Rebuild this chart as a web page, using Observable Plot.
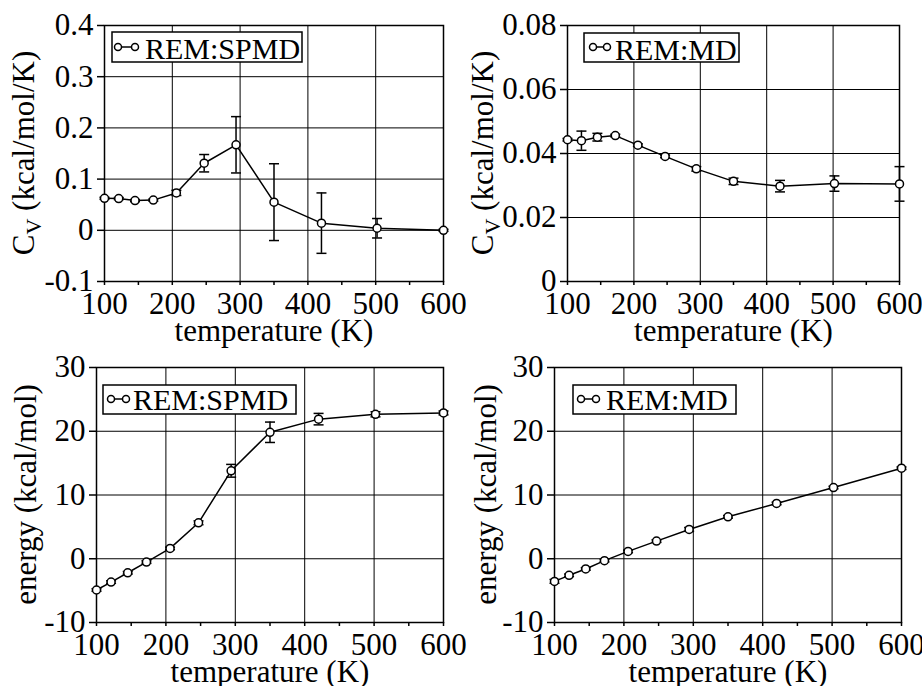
<!DOCTYPE html>
<html><head><meta charset="utf-8">
<script src="https://cdn.jsdelivr.net/npm/d3@7"></script>
<script src="https://cdn.jsdelivr.net/npm/@observablehq/plot@0.6"></script>
<style>
body{margin:0;background:#fff;}
#grid{display:grid;grid-template-columns:461px 461px;grid-template-rows:343px 343px;width:922px;height:686px;overflow:hidden;position:relative}
#grid svg{overflow:visible;display:block;font-family:"Liberation Serif",serif !important;}
#grid svg text, #grid svg tspan{font-family:"Liberation Serif",serif !important;}
</style></head><body><div id="grid"></div>
<script>
// ---- data ----
const temps = [100, 121, 145, 172, 206, 247, 294, 350, 420, 502, 600];
const cvSpmd    = [0.0625, 0.062, 0.058, 0.059, 0.073, 0.131, 0.167, 0.055, 0.014, 0.004, 0.0];
const cvSpmdErr = [0.002, 0.002, 0.002, 0.002, 0.005, 0.017, 0.055, 0.075, 0.059, 0.019, 0.002];
const cvMd      = [0.0443, 0.0440, 0.0451, 0.0456, 0.0426, 0.0391, 0.0352, 0.0313, 0.0298, 0.0306, 0.0305];
const cvMdErr   = [0.0004, 0.003, 0.0012, 0.0004, 0.0004, 0.0004, 0.0007, 0.001, 0.0018, 0.0024, 0.0054];
const eSpmd     = [-4.9, -3.66, -2.2, -0.52, 1.62, 5.64, 13.8, 19.84, 21.9, 22.66, 22.87];
const eSpmdErr  = [0.2, 0.2, 0.2, 0.2, 0.2, 0.3, 1.0, 1.6, 0.9, 0.4, 0.3];
const eMd       = [-3.55, -2.6, -1.6, -0.3, 1.15, 2.77, 4.6, 6.58, 8.67, 11.17, 14.2];
const eMdErr    = [0.3, 0.2, 0.2, 0.2, 0.2, 0.2, 0.3, 0.2, 0.2, 0.2, 0.2];
const xTicks = [100, 200, 300, 400, 500, 600];
const xMinor = [150, 250, 350, 450, 550];
const cvSpmdTicks = [-0.1, 0, 0.1, 0.2, 0.3, 0.4];
const cvMdTicks = [0, 0.02, 0.04, 0.06, 0.08];
const energyTicks = [-10, 0, 10, 20, 30];
const xLabel = "temperature (K)";
const legendSpmd = "REM:SPMD";
const legendMd = "REM:MD";

const FONT = "Liberation Serif";
const W = 461, H = 343;
const FS = 31;

const capSymbol = {
  draw(context, size) {
    const r = Math.sqrt(size / Math.PI);
    context.moveTo(-r, 0);
    context.lineTo(r, 0);
  }
};

function panel(cfg) {
  const rows = temps.map((t, i) => ({t, v: cfg.values[i], lo: cfg.values[i] - cfg.errors[i], hi: cfg.values[i] + cfg.errors[i]}));
  const [mL, mR, mT, mB] = cfg.m;
  const yLabelMark = () => {
    const g = d3.create("svg:g").attr("font-family", FONT).attr("font-size", FS).attr("fill", "black");
    const cx = mL + cfg.yLabelDx, cy = (mT + H - mB) / 2;
    const t = g.append("text").attr("transform", `translate(${cx},${cy}) rotate(-90)`)
      .attr("text-anchor", "middle").attr("dy", "0.32em");
    cfg.yLabel.forEach(part => {
      const s = t.append("tspan").text(part.text);
      if (part.sub) s.attr("font-size", 22).attr("dy", "0.3em");
      if (part.after) s.attr("dy", "-0.21em");
    });
    return g.node();
  };
  const L = cfg.legend;
  const legendMark = () => {
    const g = d3.create("svg:g");
    g.append("rect").attr("x", L.box[0]).attr("y", L.box[1]).attr("width", L.box[2]).attr("height", L.box[3])
      .attr("fill", "white").attr("stroke", "black").attr("stroke-width", 1.5);
    g.append("line").attr("x1", L.c1).attr("x2", L.c2).attr("y1", L.cy).attr("y2", L.cy).attr("stroke", "black").attr("stroke-width", 1.5);
    [L.c1, L.c2].forEach(cx => g.append("circle").attr("cx", cx).attr("cy", L.cy).attr("r", 3.5)
      .attr("fill", "white").attr("stroke", "black").attr("stroke-width", 1.5));
    g.append("text").attr("x", L.tx).attr("y", L.ty).attr("font-family", FONT).attr("font-size", 30)
      .attr("text-anchor", "start").attr("fill", "black").text(L.text);
    return g.node();
  };
  return Plot.plot({
    width: W, height: H,
    marginLeft: mL, marginRight: mR, marginTop: mT, marginBottom: mB,
    style: {fontFamily: FONT, fontSize: FS + "px", background: "transparent", color: "black", overflow: "visible"},
    x: {domain: [100, 600]},
    y: {domain: cfg.yDomain},
    marks: [
      Plot.gridX(xTicks, {stroke: "black", strokeOpacity: 1, strokeWidth: 1}),
      Plot.gridY(cfg.yTicks, {stroke: "black", strokeOpacity: 1, strokeWidth: 1}),
      Plot.axisX(xTicks, {tickSize: 4, tickPadding: 6, strokeWidth: 1.5, label: null, tickFormat: d => String(d), fontSize: FS}),
      Plot.axisX(xMinor, {tickSize: 4, strokeWidth: 1.5, label: null, tickFormat: () => ""}),
      Plot.axisY(cfg.yTicks, {tickSize: 7, tickPadding: 4, strokeWidth: 1.5, label: null, tickFormat: d => String(d), fontSize: FS}),
      Plot.frame({stroke: "black", strokeWidth: 1.5}),
      Plot.ruleX(rows, {x: "t", y1: "lo", y2: "hi", stroke: "black", strokeWidth: 1.5}),
      Plot.dot(rows, {x: "t", y: "lo", symbol: capSymbol, r: 5, stroke: "black", strokeWidth: 1.5}),
      Plot.dot(rows, {x: "t", y: "hi", symbol: capSymbol, r: 5, stroke: "black", strokeWidth: 1.5}),
      Plot.line(rows, {x: "t", y: "v", stroke: "black", strokeWidth: 1.5}),
      Plot.dot(rows, {x: "t", y: "v", r: 4, fill: "white", stroke: "black", strokeWidth: 1.5}),
      Plot.text([xLabel], {text: d => d, frameAnchor: "bottom", dy: 50, lineAnchor: "middle", fontSize: FS, fill: "black"}),
      yLabelMark,
      legendMark
    ]
  });
}

const cvLabel = [{text: "C"}, {text: "V", sub: true}, {text: " (kcal/mol/K)", after: true}];
const eLabel = [{text: "energy (kcal/mol)"}];

const panels = [
  {values: cvSpmd, errors: cvSpmdErr, yDomain: [-0.1, 0.4], yTicks: cvSpmdTicks, m: [104, 18, 25, 62], yLabel: cvLabel, yLabelDx: -80,
   legend: {box: [112, 32, 190, 30], c1: 118, c2: 135, cy: 47, tx: 145, ty: 58.5, text: legendSpmd}},
  {values: cvMd, errors: cvMdErr, yDomain: [0, 0.08], yTicks: cvMdTicks, m: [106, 23, 25, 62], yLabel: cvLabel, yLabelDx: -84,
   legend: {box: [123, 33, 155, 29], c1: 132, c2: 146, cy: 47, tx: 154, ty: 59.5, text: legendMd}},
  {values: eSpmd, errors: eSpmdErr, yDomain: [-10, 30], yTicks: energyTicks, m: [96, 18, 24, 64], yLabel: eLabel, yLabelDx: -70,
   legend: {box: [103, 42, 193, 29], c1: 111, c2: 126, cy: 56, tx: 133, ty: 67, text: legendSpmd}},
  {values: eMd, errors: eMdErr, yDomain: [-10, 30], yTicks: energyTicks, m: [93, 21, 24, 64], yLabel: eLabel, yLabelDx: -68,
   legend: {box: [112, 42, 163, 29], c1: 120, c2: 135, cy: 56, tx: 145, ty: 67, text: legendMd}}
];

const grid = document.getElementById("grid");
panels.forEach(cfg => {
  const cell = document.createElement("div");
  cell.style.width = W + "px"; cell.style.height = H + "px"; cell.style.overflow = "visible";
  cell.appendChild(panel(cfg));
  grid.appendChild(cell);
});
</script>
</body></html>
